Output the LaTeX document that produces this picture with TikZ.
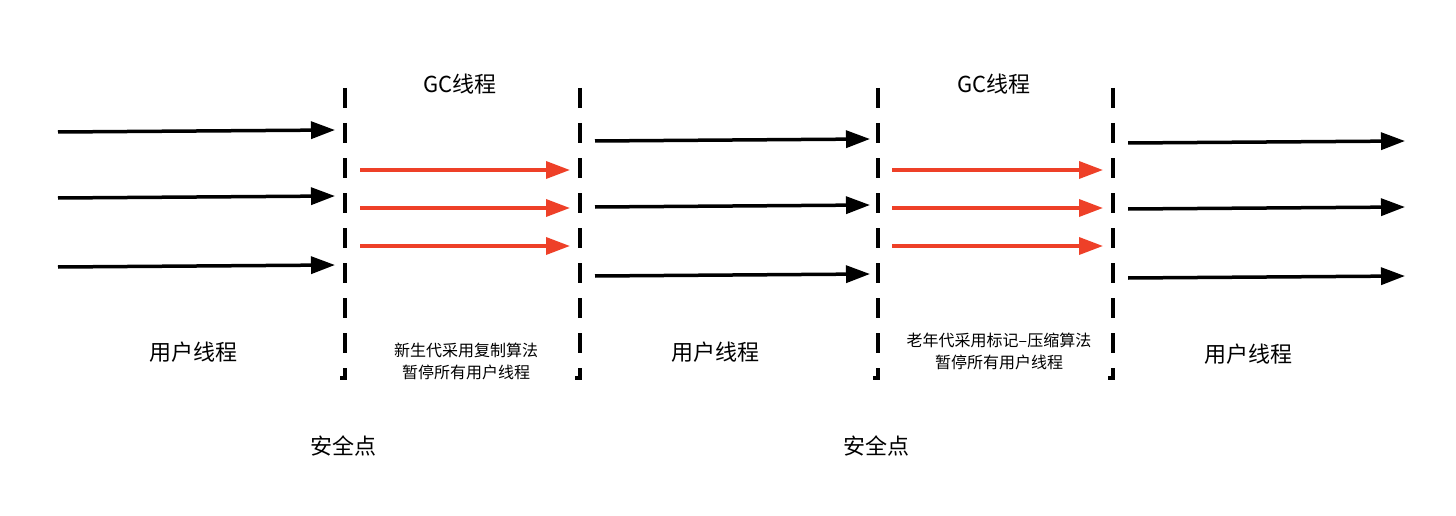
\documentclass[tikz,border=0pt]{standalone}
\usepackage{fontspec}
\setmainfont{Noto Sans CJK SC}
\usetikzlibrary{arrows.meta}
\definecolor{gcred}{RGB}{238,64,40}
\tikzset{
  every picture/.style={line width=3pt},
  thread/.style={-{Triangle[length=24pt,width=17pt]},line width=3.5pt},
  gc/.style={thread,color=gcred},
  safe/.style={line width=4pt,dash pattern=on 20pt off 15pt},
  lbl/.style={inner sep=0pt,font=\fontsize{22}{26}\selectfont},
  note/.style={inner sep=0pt,align=center,font=\fontsize{16}{22}\selectfont}
}
\begin{document}
\begin{tikzpicture}[x=1pt,y=1pt,yscale=-1]
\useasboundingbox (0,0) rectangle (1456,516);
%safe point lines
\foreach \x [count=\i] in {345,580,878,1113}{
  \coordinate (top\i) at (\x,88);
  \coordinate (bot\i) at (\x,378);
  \draw [safe] (top\i) -- (bot\i);
  \draw [line width=4pt] (\x,372) -- (bot\i) -- (\x-5,378);
}
%user thread arrows
\foreach \xa/\xb/\ya/\yb [count=\g] in {58/335/0/0,595/870/9/9,1128/1405/11/11}{
  \foreach \y [count=\k] in {132,198,267}{
    \coordinate (us\g\k) at (\xa,\y+\ya);
    \coordinate (ue\g\k) at (\xb,\y+\yb-2);
    \draw [thread] (us\g\k) -- (ue\g\k);
  }
}
%gc thread arrows
\foreach \xa/\xb [count=\g] in {360/570,892/1103}{
  \foreach \y [count=\k] in {170,208,246}{
    \coordinate (gs\g\k) at (\xa,\y);
    \coordinate (ge\g\k) at (\xb,\y);
    \draw [gc] (gs\g\k) -- (ge\g\k);
  }
}
% Text Node
\node [lbl] (gc1) at (460,84) {GC线程};
\node [lbl] (gc2) at (994,84) {GC线程};
\node [lbl] (user1) at (193,352) {用户线程};
\node [lbl] (user2) at (715,352) {用户线程};
\node [lbl] (user3) at (1248,354) {用户线程};
\node [note] (young) at (466,361) {新生代采用复制算法\\暂停所有用户线程};
\node [note] (old) at (999,351) {老年代采用标记–压缩算法\\暂停所有用户线程};
\node [lbl] (safe1) at (343,446) {安全点};
\node [lbl] (safe2) at (876,446) {安全点};
\end{tikzpicture}
\end{document}
